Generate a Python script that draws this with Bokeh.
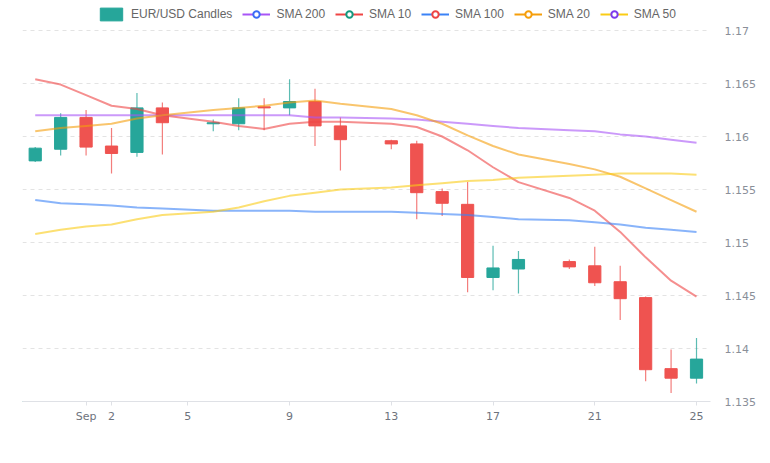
import pandas as pd
from bokeh.plotting import figure
from bokeh.models import (ColumnDataSource, Legend, LegendItem, FixedTicker,
                          Range1d)
from bokeh.embed import file_html
from bokeh.resources import INLINE

# ---------------- data ----------------
dates = ["2025-08-30", "2025-08-31", "2025-09-01", "2025-09-02", "2025-09-03",
         "2025-09-04", "2025-09-06", "2025-09-07", "2025-09-08", "2025-09-09",
         "2025-09-10", "2025-09-11", "2025-09-13", "2025-09-14", "2025-09-15",
         "2025-09-16", "2025-09-17", "2025-09-18", "2025-09-20", "2025-09-21",
         "2025-09-22", "2025-09-23", "2025-09-24", "2025-09-25"]
opens  = [1.1577, 1.1588, 1.1618, 1.1591, 1.1585, 1.1627, 1.1612, 1.1612,
          1.1628, 1.1627, 1.1633, 1.1610, 1.1596, 1.1593, 1.1548, 1.1536,
          1.1467, 1.1475, 1.1482, 1.1478, 1.1463, 1.1448, 1.1381, 1.1372]
highs  = [1.1590, 1.1622, 1.1625, 1.1608, 1.1641, 1.1632, 1.1616, 1.1636,
          1.1636, 1.1654, 1.1645, 1.1618, 1.1597, 1.1596, 1.1551, 1.1557,
          1.1497, 1.1492, 1.1484, 1.1496, 1.1478, 1.1449, 1.1399, 1.1410]
lows   = [1.1576, 1.1582, 1.1582, 1.1565, 1.1581, 1.1583, 1.1605, 1.1606,
          1.1606, 1.1620, 1.1591, 1.1568, 1.1588, 1.1522, 1.1525, 1.1453,
          1.1455, 1.1452, 1.1475, 1.1459, 1.1427, 1.1369, 1.1358, 1.1367]
closes = [1.1589, 1.1618, 1.1590, 1.1584, 1.1627, 1.1613, 1.1613, 1.1627,
          1.1627, 1.1633, 1.1610, 1.1597, 1.1593, 1.1547, 1.1537, 1.1467,
          1.1476, 1.1484, 1.1477, 1.1462, 1.1447, 1.1380, 1.1372, 1.1390]

sma_10  = [1.1654, 1.1649, 1.1639, 1.1629, 1.1626, 1.1620, 1.1614, 1.1610,
           1.1607, 1.1612, 1.1614, 1.1614, 1.1612, 1.1609, 1.1600, 1.1587,
           1.1571, 1.1557, 1.1542, 1.1530, 1.1510, 1.1486, 1.1464, 1.1449]
sma_20  = [1.1605, 1.1608, 1.1610, 1.1612, 1.1617, 1.1620, 1.1625, 1.1627,
           1.1629, 1.1632, 1.1634, 1.1631, 1.1626, 1.1620, 1.1612, 1.1601,
           1.1591, 1.1583, 1.1574, 1.1569, 1.1562, 1.1551, 1.1540, 1.1529]
sma_200 = [1.1620, 1.1620, 1.1620, 1.1620, 1.1620, 1.1620, 1.1620, 1.1620,
           1.1620, 1.1620, 1.1618, 1.1618, 1.1617, 1.1616, 1.1614, 1.1612,
           1.1610, 1.1608, 1.1606, 1.1605, 1.1602, 1.1600, 1.1597, 1.1594]
sma_50  = [1.1508, 1.1512, 1.1515, 1.1517, 1.1522, 1.1526, 1.1529, 1.1533,
           1.1539, 1.1544, 1.1547, 1.1550, 1.1552, 1.1554, 1.1556, 1.1558,
           1.1559, 1.1561, 1.1563, 1.1564, 1.1565, 1.1565, 1.1565, 1.1564]
sma_100 = [1.1540, 1.1537, 1.1536, 1.1535, 1.1533, 1.1532, 1.1530, 1.1530,
           1.1530, 1.1530, 1.1529, 1.1529, 1.1529, 1.1528, 1.1527, 1.1526,
           1.1524, 1.1522, 1.1521, 1.1519, 1.1517, 1.1514, 1.1512, 1.1510]

x_tick_dates = ["2025-09-01", "2025-09-02", "2025-09-05", "2025-09-09",
                "2025-09-13", "2025-09-17", "2025-09-21", "2025-09-25"]
x_tick_labels = ["Sep", "2", "5", "9", "13", "17", "21", "25"]
y_tick_labels = ["1.135", "1.14", "1.145", "1.15", "1.155", "1.16", "1.165", "1.17"]

# ---------------- derived ----------------
base = pd.Timestamp("2025-08-31")
xs = [int((pd.Timestamp(d) - base).days) for d in dates]
x_ticks = [int((pd.Timestamp(d) - base).days) for d in x_tick_dates]
y_ticks = [float(s) for s in y_tick_labels]

UP = "#26a69a"
DOWN = "#ef5350"
colors = [UP if c >= o else DOWN for o, c in zip(opens, closes)]
src = ColumnDataSource(dict(
    x=xs, open=opens, close=closes, high=highs, low=lows,
    top=[max(o, c) for o, c in zip(opens, closes)],
    bottom=[min(o, c) for o, c in zip(opens, closes)],
    color=colors,
))

# frame spans canvas y 0..401; 1.17 sits 30px below the top (room for legend)
y_lo, y_hi = y_ticks[0], y_ticks[-1]
y_top = y_hi + (y_hi - y_lo) * 30.0 / 371.0

p = figure(width=770, height=463, output_backend="svg", toolbar_location=None,
           x_range=Range1d(-1.5, 25.55), y_range=Range1d(y_lo, y_top),
           y_axis_location="right", min_border_left=22, min_border_right=60,
           min_border_top=0, min_border_bottom=62)
p.outline_line_color = None
p.background_fill_color = "white"

# grid
p.xgrid.grid_line_color = None
p.ygrid.grid_line_color = "#e3e3e3"
p.ygrid.grid_line_dash = "4 4"
p.ygrid.grid_line_width = 1

# y axis
p.yaxis.ticker = FixedTicker(ticks=y_ticks)
p.yaxis.major_label_overrides = {v: s for v, s in zip(y_ticks, y_tick_labels)}
p.yaxis.axis_line_color = None
p.yaxis.major_tick_line_color = None
p.yaxis.minor_tick_line_color = None
p.yaxis.major_label_standoff = 8
p.yaxis.major_label_text_font = "DejaVu Sans"
p.yaxis.major_label_text_font_size = "11px"
p.yaxis.major_label_text_color = "#8a8f99"

# x axis
xa = p.xaxis[0]
xa.ticker = FixedTicker(ticks=x_ticks)
xa.major_label_overrides = {v: s for v, s in zip(x_ticks, x_tick_labels)}
xa.axis_line_color = "#dfe1e6"
xa.major_tick_line_color = "#dfe1e6"
xa.major_tick_in = 0
xa.major_tick_out = 4
xa.minor_tick_line_color = None
xa.major_label_standoff = 4
xa.major_label_text_font = "DejaVu Sans"
xa.major_label_text_font_size = "11px"
xa.major_label_text_color = "#6e737d"

# candles
p.segment(x0="x", x1="x", y0="low", y1="high", source=src,
          line_color="color", line_width=1.2, line_alpha=0.75)
p.vbar(x="x", top="top", bottom="bottom", width=0.48, source=src,
       fill_color="color", line_color="color", line_width=1)

# SMA lines
line_specs = [
    ("SMA 200", sma_200, "#a855f7", "#3b6cf6"),
    ("SMA 10",  sma_10,  "#ef4444", "#159a80"),
    ("SMA 100", sma_100, "#3b82f6", "#ef4444"),
    ("SMA 20",  sma_20,  "#f59e0b", "#f59e0b"),
    ("SMA 50",  sma_50,  "#facc15", "#7c3aed"),
]
for name, vals, lc, mc in line_specs:
    p.line(xs, vals, line_color=lc, line_width=2, line_alpha=0.6)

# legend keys: renderers holding one point far outside the visible range
off_x = [-100, -99]
off_y = [y_lo, y_lo]
items = []
cand_key = p.vbar(x=off_x[:1], top=off_y[:1], bottom=off_y[:1], width=0.5,
                  fill_color=UP, line_color=UP)
items.append(LegendItem(label="EUR/USD Candles", renderers=[cand_key]))
for name, vals, lc, mc in line_specs:
    lr = p.line(x=off_x, y=off_y, line_color=lc, line_width=2)
    sr = p.scatter(x=off_x[:1], y=off_y[:1], marker="circle", size=11,
                   fill_color="white", line_color=mc, line_width=2)
    items.append(LegendItem(label=name, renderers=[lr, sr]))

legend = Legend(items=items, orientation="horizontal", location=(75, 379),
                glyph_width=28, glyph_height=16, label_standoff=6, spacing=10,
                padding=0, margin=0, border_line_color=None,
                background_fill_alpha=0,
                label_text_font="Liberation Sans", label_text_font_size="12px",
                label_text_color="#666666", label_height=16)
p.add_layout(legend, "center")

open("out.html", "w").write(file_html(p, INLINE))
